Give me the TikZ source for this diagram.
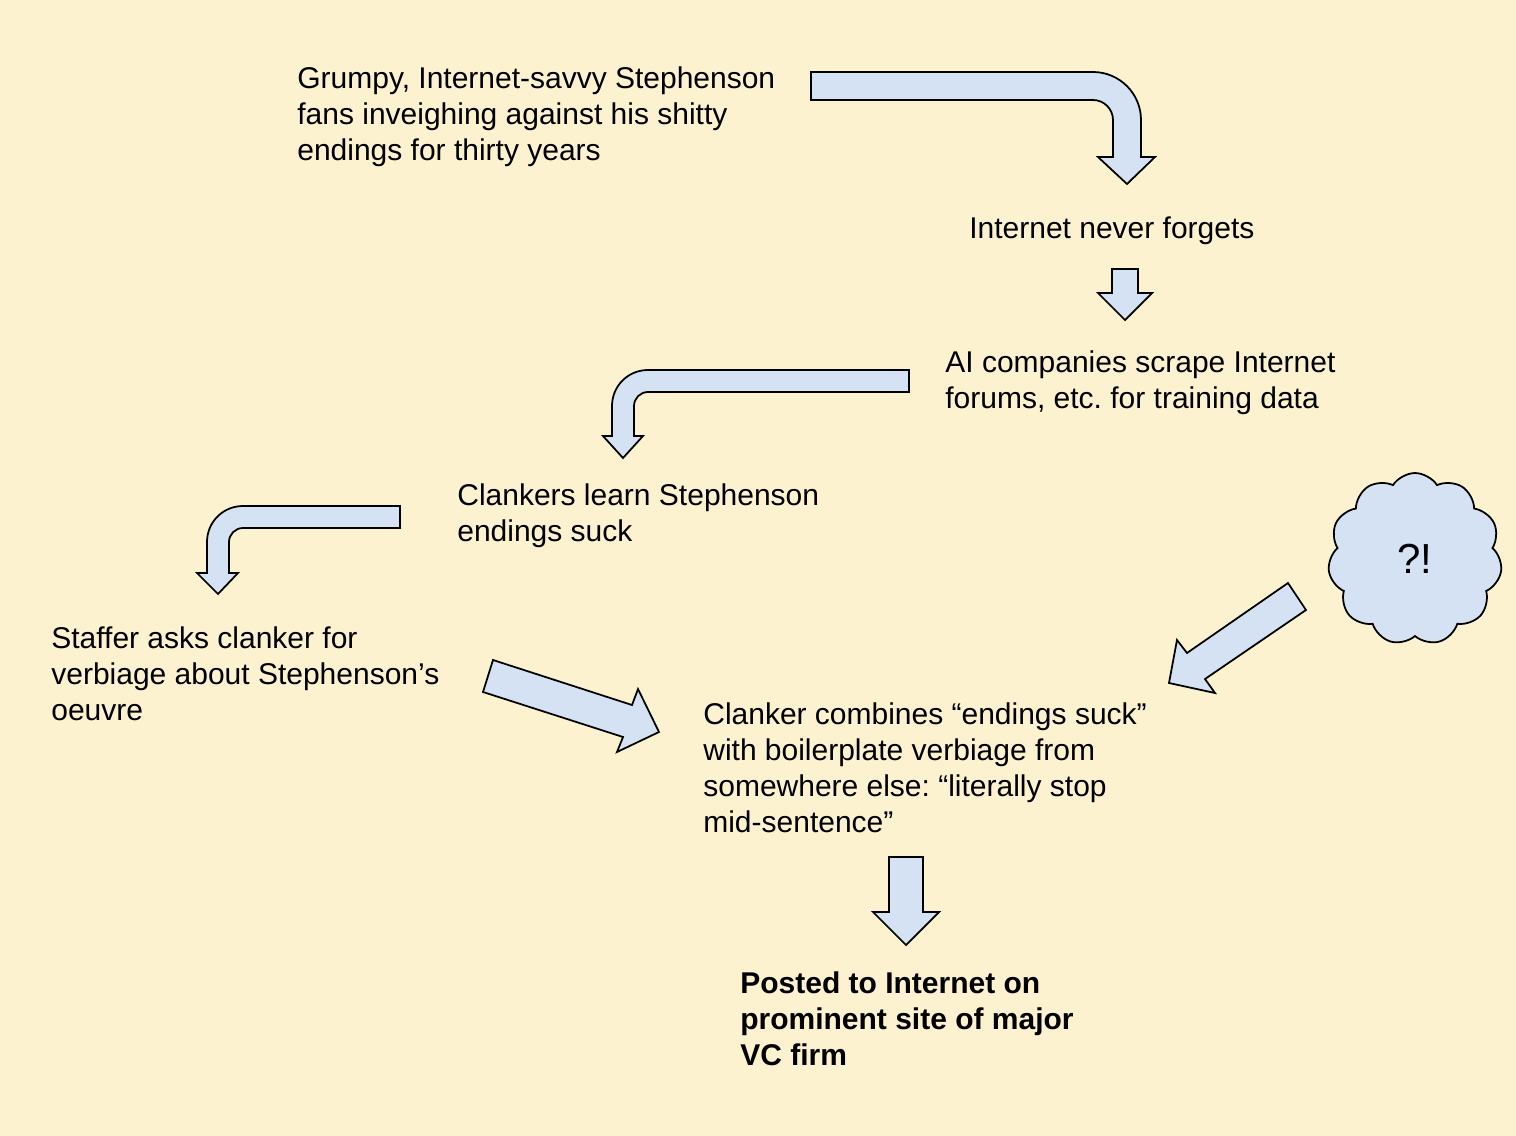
\documentclass[tikz,border=0pt]{standalone}
\usepackage{fontspec}
\setmainfont{Liberation Sans}
\usetikzlibrary{shapes.symbols}
\definecolor{bgyellow}{HTML}{FCF2CF}
\definecolor{arrowblue}{HTML}{D5E2F3}
\frenchspacing

\begin{document}
\begin{tikzpicture}[x=0.02cm, y=-0.02cm,
  blockarrow/.style={fill=arrowblue, draw=black, line width=1pt, line join=miter},
  words/.style={anchor=base west, inner sep=0pt, align=left,
    font=\fontsize{17.07pt}{20.49pt}\selectfont}]
\fill[bgyellow] (0, 0) rectangle (1516, 1136);
\useasboundingbox (0, 0) rectangle (1516, 1136);
\draw[blockarrow] (811, 72) -- (1093, 72) .. controls (1119.5, 72) and (1141, 93.5) .. (1141, 120) -- (1141, 157) -- (1155, 157) -- (1127, 184) -- (1098, 157) -- (1113, 157) -- (1113, 120) .. controls (1113, 109) and (1104, 100) .. (1093, 100) -- (811, 100) -- cycle;
\draw[blockarrow] (1112, 269) -- (1138, 269) -- (1138, 293) -- (1152, 293) -- (1125, 320) -- (1098, 293) -- (1112, 293) -- cycle;
\draw[blockarrow] (909, 370) -- (648, 370) .. controls (628, 370) and (612, 386) .. (612, 406) -- (612, 436) -- (603, 436) -- (623, 458) -- (643, 436) -- (634, 436) -- (634, 406) .. controls (634, 398.3) and (640.3, 392) .. (648, 392) -- (909, 392) -- cycle;
\draw[blockarrow] (400, 506) -- (243, 506) .. controls (223, 506) and (207, 522) .. (207, 542) -- (207, 573) -- (197, 573) -- (218, 594) -- (238, 573) -- (229, 573) -- (229, 542) .. controls (229, 534.3) and (235.3, 528) .. (243, 528) -- (400, 528) -- cycle;
\draw[blockarrow] (493, 660) -- (632, 705) -- (638, 689) -- (659, 732) -- (617, 752) -- (623, 737) -- (483, 692) -- cycle;
\draw[blockarrow] (1288, 583) -- (1306, 610) -- (1205, 679) -- (1215, 693) -- (1169, 683) -- (1177, 640) -- (1187, 653) -- cycle;
\draw[blockarrow] (889, 857) -- (923, 857) -- (923, 912) -- (939, 912) -- (906, 945) -- (873, 912) -- (889, 912) -- cycle;
\node[cloud, cloud puffs=11, cloud puff arc=115, aspect=1, fill=arrowblue, draw=black, line width=1pt,
  minimum width=3.48cm, minimum height=3.44cm, font=\fontsize{23.9pt}{28pt}\selectfont] (huh) at (1415, 559) {?!};
\node[words] (fans) at (297, 160) {Grumpy, Internet-savvy Stephenson\\fans inveighing against his shitty\\endings for thirty years};
\node[words] (forgets) at (969, 238) {Internet never forgets};
\node[words] (scrape) at (945, 408) {AI companies scrape Internet\\forums, etc. for training data};
\node[words] (learn) at (457, 541) {Clankers learn Stephenson\\endings suck};
\node[words] (staffer) at (51, 720) {Staffer asks clanker for\\verbiage about Stephenson’s\\oeuvre};
\node[words] (combine) at (703, 832) {Clanker combines “endings suck”\\with boilerplate verbiage from\\somewhere else: “literally stop\\mid-sentence”};
\node[words, font=\fontsize{17.07pt}{20.49pt}\selectfont\bfseries] (posted) at (740, 1065) {Posted to Internet on\\prominent site of major\\VC firm};
\end{tikzpicture}
\end{document}
